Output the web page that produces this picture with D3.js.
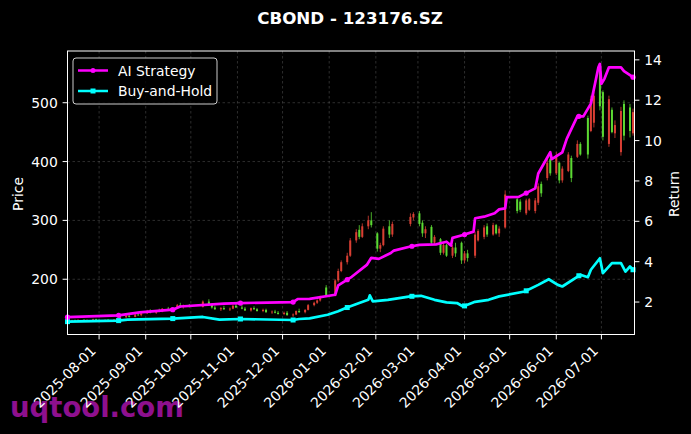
<!DOCTYPE html>
<html>
<head>
<meta charset="utf-8">
<script src="https://cdn.jsdelivr.net/npm/d3@7"></script>
<style>
  html, body { margin: 0; padding: 0; background: #000; }
  svg { display: block; font-family: "DejaVu Sans", sans-serif; }
</style>
</head>
<body>
<svg id="chart" width="691" height="434"></svg>
<script>
// daily-ish candles: [date, open, high, low, close]
var candles = [
  ["2025-07-14",129,131,128,130], ["2025-07-16",130,131.5,129,129.5], ["2025-07-18",129.5,132,129,131],
  ["2025-07-22",131,132,129.5,130], ["2025-07-24",130,131.5,129,131], ["2025-07-28",131,133,130,132],
  ["2025-07-30",132,133,130.5,131], ["2025-08-01",131,132,129.5,130], ["2025-08-05",130,131.5,129,131],
  ["2025-08-07",131,132.5,130,130.5], ["2025-08-11",130.5,132,129.5,131.5], ["2025-08-13",131.5,134,131,133],
  ["2025-08-15",133,136,132,135.5], ["2025-08-19",135.5,139,134,138], ["2025-08-21",138,140,135,136],
  ["2025-08-25",136,141,135.5,140], ["2025-08-27",140,144,138,139], ["2025-08-29",139,143,137,142],
  ["2025-09-02",142,148,141,146], ["2025-09-04",146,149,142,143], ["2025-09-08",143,147,141,146],
  ["2025-09-10",146,150,144,145], ["2025-09-12",145,151,144,150], ["2025-09-16",150,153,146,147],
  ["2025-09-18",147,152,145,151], ["2025-09-22",151,158,150,156], ["2025-09-24",156,160,152,153],
  ["2025-09-26",153,157,150,155], ["2025-09-30",155,158,152,153], ["2025-10-09",153,164,152,162],
  ["2025-10-13",162,166,156,157], ["2025-10-15",157,159,150,152], ["2025-10-17",152,155,148,149],
  ["2025-10-21",149,153,146,151], ["2025-10-23",151,155,148,149], ["2025-10-27",149,152,146,150],
  ["2025-10-29",150,156,149,155], ["2025-10-31",155,158,151,152], ["2025-11-04",152,156,149,150],
  ["2025-11-06",150,153,146,147], ["2025-11-10",147,152,145,151], ["2025-11-12",151,154,148,149],
  ["2025-11-14",149,151,145,146], ["2025-11-18",146,150,144,148], ["2025-11-20",148,150,143,144],
  ["2025-11-24",144,147,141,145], ["2025-11-26",145,148,142,143], ["2025-11-28",143,146,140,141],
  ["2025-12-02",141,145,139,143], ["2025-12-04",143,146,138,139], ["2025-12-08",139,142,136,140],
  ["2025-12-10",140,147,139,146], ["2025-12-12",146,150,143,144], ["2025-12-16",144,149,142,148],
  ["2025-12-18",148,158,147,156], ["2025-12-22",156,162,154,160], ["2025-12-24",160,166,158,164],
  ["2025-12-26",164,172,162,170], ["2025-12-30",186,190,170,172], ["2026-01-05",172,200,171,198],
  ["2026-01-07",198,218,195,214], ["2026-01-09",214,232,212,229], ["2026-01-13",229,245,225,240],
  ["2026-01-15",240,270,238,266], ["2026-01-19",266,285,262,280], ["2026-01-21",284,292,268,272],
  ["2026-01-23",272,295,270,290], ["2026-01-27",290,308,285,300], ["2026-01-29",300,314,288,292],
  ["2026-02-02",278,280,247,252], ["2026-02-04",252,262,246,258], ["2026-02-06",258,290,256,286],
  ["2026-02-10",290,300,270,276], ["2026-02-12",276,298,272,294], ["2026-02-24",294,312,290,306],
  ["2026-02-26",305,314,300,311], ["2026-03-02",312,316,290,294], ["2026-03-04",296,300,272,278],
  ["2026-03-06",278,290,270,285], ["2026-03-10",289,292,258,262], ["2026-03-12",262,275,258,272],
  ["2026-03-16",268,270,241,245], ["2026-03-18",245,262,242,258], ["2026-03-20",258,260,238,240],
  ["2026-03-24",240,258,236,254], ["2026-03-26",254,262,238,244], ["2026-03-30",262,264,226,232],
  ["2026-04-01",232,248,227,244], ["2026-04-03",244,250,230,236], ["2026-04-08",240,281,236,276],
  ["2026-04-10",266,285,264,282], ["2026-04-14",272,292,268,288], ["2026-04-16",290,295,272,276],
  ["2026-04-20",276,296,274,292], ["2026-04-22",292,294,276,278], ["2026-04-24",278,290,272,286],
  ["2026-04-28",288,351,286,344], ["2026-05-06",336,338,312,316], ["2026-05-08",332,336,314,318],
  ["2026-05-12",312,337,309,334], ["2026-05-14",318,338,316,336], ["2026-05-18",316,338,312,334],
  ["2026-05-20",330,363,326,358], ["2026-05-22",362,366,340,346], ["2026-05-26",372,405,368,398],
  ["2026-05-28",404,408,376,380], ["2026-06-01",380,416,377,410], ["2026-06-03",398,399,363,368],
  ["2026-06-05",368,392,364,388], ["2026-06-09",384,416,382,412], ["2026-06-11",406,410,365,372],
  ["2026-06-15",408,436,406,430], ["2026-06-17",430,433,410,412], ["2026-06-22",474,478,405,412],
  ["2026-06-24",452,512,450,506], ["2026-06-26",466,518,458,512], ["2026-06-30",560,566,487,494],
  ["2026-07-02",518,521,436,442], ["2026-07-06",430,512,425,506], ["2026-07-08",488,492,448,450],
  ["2026-07-10",448,470,440,462], ["2026-07-14",416,493,410,486], ["2026-07-16",498,504,436,444],
  ["2026-07-20",492,498,441,452], ["2026-07-22",448,490,444,484]
];

// cumulative return of the two strategies
var aiStrategy = [
  ["2025-07-11",1.25], ["2025-08-14",1.34], ["2025-08-28",1.49], ["2025-09-19",1.62], ["2025-09-24",1.78],
  ["2025-10-23",1.92], ["2025-11-03",1.95], ["2025-12-08",2.00], ["2025-12-11",2.15], ["2025-12-19",2.16],
  ["2026-01-05",2.36], ["2026-01-07",2.83], ["2026-01-16",3.25], ["2026-01-26",3.84], ["2026-01-29",4.19],
  ["2026-02-03",4.14], ["2026-02-11",4.43], ["2026-02-13",4.55], ["2026-02-24",4.75], ["2026-03-02",4.83],
  ["2026-03-13",4.86], ["2026-03-20",4.99], ["2026-03-23",4.80], ["2026-03-24",5.18], ["2026-03-31",5.32],
  ["2026-04-07",5.49], ["2026-04-08",6.15], ["2026-04-14",6.23], ["2026-04-21",6.40], ["2026-04-24",6.59],
  ["2026-04-28",6.64], ["2026-04-29",7.20], ["2026-05-07",7.21], ["2026-05-18",7.63], ["2026-05-20",8.37],
  ["2026-05-28",9.42], ["2026-05-29",9.08], ["2026-06-05",9.42], ["2026-06-08",10.10], ["2026-06-15",11.20],
  ["2026-06-19",11.20], ["2026-06-24",11.83], ["2026-06-29",13.63], ["2026-06-30",13.80], ["2026-07-01",12.81],
  ["2026-07-03",13.06], ["2026-07-06",13.63], ["2026-07-14",13.63], ["2026-07-16",13.44], ["2026-07-22",13.14],
  ["2026-07-23",13.10]
];
var buyHold = [
  ["2025-07-11",1.03], ["2025-08-14",1.08], ["2025-08-20",1.13], ["2025-09-19",1.18], ["2025-10-09",1.26],
  ["2025-10-20",1.13], ["2025-11-03",1.16], ["2025-12-08",1.11], ["2025-12-12",1.16], ["2025-12-19",1.19],
  ["2025-12-31",1.37], ["2026-01-07",1.54], ["2026-01-12",1.70], ["2026-01-21",1.95], ["2026-01-27",2.11],
  ["2026-01-28",2.33], ["2026-01-30",2.03], ["2026-02-09",2.11], ["2026-02-24",2.28], ["2026-03-03",2.31],
  ["2026-03-12",2.11], ["2026-03-20",1.98], ["2026-03-27",1.95], ["2026-03-31",1.78], ["2026-04-08",2.01],
  ["2026-04-17",2.11], ["2026-04-24",2.28], ["2026-05-11",2.52], ["2026-05-20",2.85], ["2026-05-27",3.13],
  ["2026-06-02",2.85], ["2026-06-05",2.77], ["2026-06-17",3.35], ["2026-06-22",3.23], ["2026-06-24",3.60],
  ["2026-06-30",4.17], ["2026-07-02",3.43], ["2026-07-08",3.93], ["2026-07-14",3.93], ["2026-07-17",3.51],
  ["2026-07-20",3.76], ["2026-07-22",3.60], ["2026-07-23",3.65]
];
// every 25th trading day gets a marker
var markerDates = ["2025-07-11","2025-08-14","2025-09-19","2025-11-03","2025-12-08","2026-01-13",
  "2026-02-25","2026-04-01","2026-05-12","2026-06-16","2026-07-22"];
var priceTicks = [200, 300, 400, 500];
var returnTicks = [2, 4, 6, 8, 10, 12, 14];

var parse = d3.timeParse("%Y-%m-%d");
var W = 691, H = 434;
var plot = { left: 67.5, right: 634.5, top: 51, bottom: 334.5 };
var tickFont = 13.9;

var svg = d3.select("#chart");
svg.append("rect").attr("width", W).attr("height", H).attr("fill", "#000");

// watermark sits under the tick labels
svg.append("text")
  .attr("x", 10).attr("y", 417)
  .attr("font-size", 27.5).attr("font-weight", "bold")
  .attr("fill", "#8e108e")
  .text("uqtool.com");

var x = d3.scaleTime()
  .domain([parse(aiStrategy[0][0]), parse(aiStrategy[aiStrategy.length - 1][0])])
  .range([plot.left, plot.right]);

var pMin = d3.min(candles, function (d) { return d[3]; });
var pMax = d3.max(candles, function (d) { return d[2]; });
var pPad = (pMax - pMin) * 0.05;
var yPrice = d3.scaleLinear().domain([pMin - pPad, pMax + pPad]).range([plot.bottom, plot.top]);

var allRet = aiStrategy.concat(buyHold).map(function (d) { return d[1]; });
var rMin = d3.min(allRet), rMax = d3.max(allRet);
var rPad = (rMax - rMin) * 0.05;
var yRet = d3.scaleLinear().domain([rMin - rPad, rMax + rPad]).range([plot.bottom, plot.top]);

var monthTicks = d3.timeMonth.range(d3.timeMonth.ceil(x.domain()[0]), x.domain()[1]);

// grid
var grid = svg.append("g")
  .attr("stroke", "#777").attr("stroke-opacity", 0.55)
  .attr("stroke-width", 0.7).attr("stroke-dasharray", "2.5,2.5");
grid.selectAll("line.gx").data(monthTicks).enter().append("line")
  .attr("x1", function (d) { return x(d); }).attr("x2", function (d) { return x(d); })
  .attr("y1", plot.top).attr("y2", plot.bottom);
grid.selectAll("line.gy").data(priceTicks).enter().append("line")
  .attr("x1", plot.left).attr("x2", plot.right)
  .attr("y1", function (d) { return yPrice(d); }).attr("y2", function (d) { return yPrice(d); });

// candles: red for up, green for down
var candleG = svg.append("g").attr("opacity", 0.85);
var c = candleG.selectAll("g").data(candles).enter().append("g");
function candleColor(d) { return d[4] >= d[1] ? "#ff4a3d" : "#6cff3c"; }
c.append("line")
  .attr("x1", function (d) { return x(parse(d[0])); })
  .attr("x2", function (d) { return x(parse(d[0])); })
  .attr("y1", function (d) { return yPrice(d[2]); })
  .attr("y2", function (d) { return yPrice(d[3]); })
  .attr("stroke", candleColor).attr("stroke-width", 0.8);
c.append("rect")
  .attr("x", function (d) { return x(parse(d[0])) - 1; })
  .attr("width", 2)
  .attr("y", function (d) { return yPrice(Math.max(d[1], d[4])); })
  .attr("height", function (d) { return Math.max(0.8, Math.abs(yPrice(d[1]) - yPrice(d[4]))); })
  .attr("fill", candleColor);

// strategy lines
var line = d3.line()
  .x(function (d) { return x(parse(d[0])); })
  .y(function (d) { return yRet(d[1]); });

function valueAt(series, date) {
  var dates = series.map(function (d) { return parse(d[0]); });
  var i = d3.bisectLeft(dates, date);
  if (i <= 0) return series[0][1];
  if (i >= series.length) return series[series.length - 1][1];
  var t = (date - dates[i - 1]) / (dates[i] - dates[i - 1]);
  return series[i - 1][1] + t * (series[i][1] - series[i - 1][1]);
}

var lines = [
  { name: "AI Strategy", data: aiStrategy, color: "#ff00ff", marker: "circle" },
  { name: "Buy-and-Hold", data: buyHold, color: "#00ffff", marker: "square" }
];

lines.slice().reverse().forEach(function (s) {
  svg.append("path")
    .datum(s.data)
    .attr("fill", "none")
    .attr("stroke", s.color)
    .attr("stroke-width", 2.7)
    .attr("stroke-linejoin", "round")
    .attr("d", line);
  var m = svg.append("g").attr("fill", s.color);
  markerDates.forEach(function (md) {
    var dt = parse(md);
    var px = x(dt), py = yRet(valueAt(s.data, dt));
    if (s.marker === "circle") {
      m.append("circle").attr("cx", px).attr("cy", py).attr("r", 2.6);
    } else {
      m.append("rect").attr("x", px - 2.5).attr("y", py - 2.5).attr("width", 5).attr("height", 5);
    }
  });
});

// frame
svg.append("rect")
  .attr("x", plot.left).attr("y", plot.top)
  .attr("width", plot.right - plot.left).attr("height", plot.bottom - plot.top)
  .attr("fill", "none").attr("stroke", "#fff").attr("stroke-width", 1);

// left axis
var yl = svg.append("g").attr("fill", "#fff").attr("font-size", tickFont);
priceTicks.forEach(function (t) {
  var yy = yPrice(t);
  yl.append("line").attr("x1", plot.left - 4.9).attr("x2", plot.left)
    .attr("y1", yy).attr("y2", yy).attr("stroke", "#fff").attr("stroke-width", 1);
  yl.append("text").attr("x", plot.left - 9.7).attr("y", yy).attr("dy", "0.36em")
    .attr("text-anchor", "end").text(t);
});

// right axis
var yr = svg.append("g").attr("fill", "#fff").attr("font-size", tickFont);
returnTicks.forEach(function (t) {
  var yy = yRet(t);
  yr.append("line").attr("x1", plot.right).attr("x2", plot.right + 4.9)
    .attr("y1", yy).attr("y2", yy).attr("stroke", "#fff").attr("stroke-width", 1);
  yr.append("text").attr("x", plot.right + 9.7).attr("y", yy).attr("dy", "0.36em")
    .attr("text-anchor", "start").text(t);
});

// bottom axis
var fmt = d3.timeFormat("%Y-%m-%d");
var xa = svg.append("g").attr("fill", "#fff").attr("font-size", tickFont);
monthTicks.forEach(function (t) {
  var xx = x(t);
  xa.append("line").attr("x1", xx).attr("x2", xx)
    .attr("y1", plot.bottom).attr("y2", plot.bottom + 4.9)
    .attr("stroke", "#fff").attr("stroke-width", 1);
  xa.append("text")
    .attr("text-anchor", "end")
    .attr("transform", "translate(" + (xx - 2.3) + "," + (plot.bottom + 17.2) + ") rotate(-45)")
    .text(fmt(t));
});

// axis labels and title
svg.append("text").attr("transform", "translate(23," + 194 + ") rotate(-90)")
  .attr("text-anchor", "middle").attr("fill", "#fff").attr("font-size", 13.9).text("Price");
svg.append("text").attr("transform", "translate(679," + 194 + ") rotate(-90)")
  .attr("text-anchor", "middle").attr("fill", "#fff").attr("font-size", 13.9).text("Return");
svg.append("text").attr("x", 350).attr("y", 24)
  .attr("text-anchor", "middle").attr("fill", "#fff")
  .attr("font-size", 16.7).attr("font-weight", "bold")
  .text("CBOND - 123176.SZ");

// legend
var lg = svg.append("g");
lg.append("rect").attr("x", 73).attr("y", 58).attr("width", 144).attr("height", 46)
  .attr("rx", 3).attr("fill", "#000").attr("fill-opacity", 0.8)
  .attr("stroke", "#cccccc").attr("stroke-width", 1);
lines.forEach(function (s, i) {
  var ly = 70.5 + i * 20.5;
  lg.append("line").attr("x1", 78).attr("x2", 108).attr("y1", ly).attr("y2", ly)
    .attr("stroke", s.color).attr("stroke-width", 2.5);
  if (s.marker === "circle") {
    lg.append("circle").attr("cx", 93).attr("cy", ly).attr("r", 2.5).attr("fill", s.color);
  } else {
    lg.append("rect").attr("x", 90.5).attr("y", ly - 2.5).attr("width", 5).attr("height", 5).attr("fill", s.color);
  }
  lg.append("text").attr("x", 118).attr("y", ly).attr("dy", "0.36em")
    .attr("fill", "#fff").attr("font-size", 13.9).text(s.name);
});
</script>
</body>
</html>
